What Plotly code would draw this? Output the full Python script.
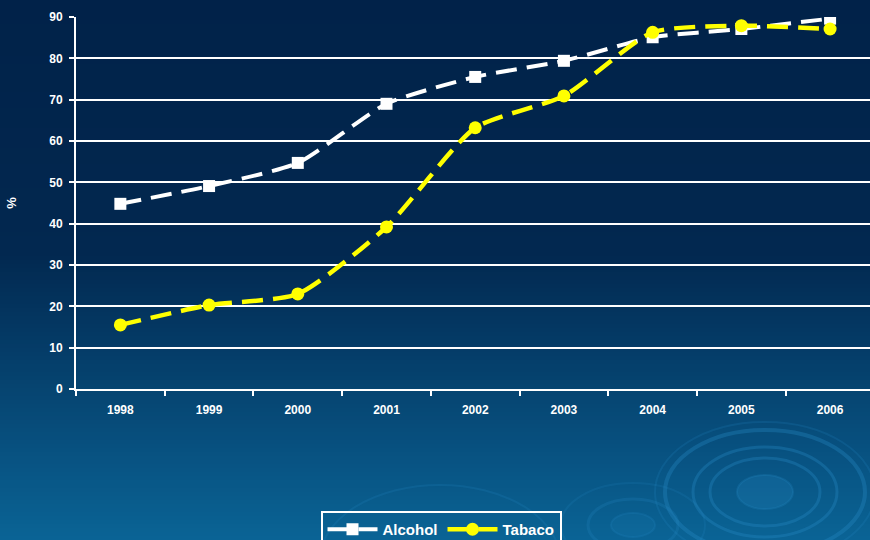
import plotly.graph_objects as go

# Survey years and shares (%) for each substance
years = ["1998", "1999", "2000", "2001", "2002", "2003", "2004", "2005", "2006"]
alcohol = [44.8, 49.1, 54.7, 69.0, 75.5, 79.4, 85.1, 87.1, 89.6]
tabaco = [15.5, 20.3, 23.0, 39.2, 63.2, 70.9, 86.3, 87.9, 87.1]
y_ticks = [0, 10, 20, 30, 40, 50, 60, 70, 80, 90]

W, H = 870, 540
L, T, B = 76, 17, 389          # plot-area edges in pixels
PW, PH = W - L, B - T


def px(x):
    return (x - L) / PW


def py(y):
    return (B - y) / PH


def mix(c1, c2, t):
    return "rgb(%d,%d,%d)" % tuple(round(a + (b - a) * t) for a, b in zip(c1, c2))


shapes = []

# vertical background gradient: deep navy on top, lighter blue at the bottom
top_c, mid_c, bot_c = (1, 34, 73), (2, 40, 80), (10, 100, 150)
step = 4
for y0 in range(-8, H + 20, step):
    if y0 < 250:
        col = mix(top_c, mid_c, max(0.0, y0 / 250))
    else:
        col = mix(mid_c, bot_c, min(1.0, (y0 - 250) / (H - 250)))
    shapes.append(dict(type="rect", xref="paper", yref="paper", layer="below",
                       x0=px(-5), x1=px(W + 5), y0=py(y0 + step + 1), y1=py(y0),
                       fillcolor=col, line=dict(width=0)))


def ring(cx, cy, rx, ry, color, width=3, fill=None):
    shapes.append(dict(type="circle", xref="paper", yref="paper", layer="below",
                       x0=px(cx - rx), x1=px(cx + rx), y0=py(cy + ry), y1=py(cy - ry),
                       line=dict(color=color, width=width),
                       fillcolor=fill if fill else "rgba(0,0,0,0)"))


# ripple ornaments in the lower right
ring_col = "rgba(40,140,200,0.32)"
ring(765, 492, 28, 17, "rgba(40,140,200,0.22)", 2, "rgba(40,140,200,0.22)")
ring(765, 492, 55, 34, ring_col, 3)
ring(765, 492, 72, 45, ring_col, 3)
ring(765, 492, 100, 62, ring_col, 4)
ring(765, 492, 110, 70, "rgba(40,140,200,0.18)", 2)
ring(633, 525, 22, 12, "rgba(40,140,200,0.18)", 2, "rgba(40,140,200,0.12)")
ring(633, 525, 45, 26, "rgba(40,140,200,0.2)", 3)
ring(633, 525, 72, 42, "rgba(40,140,200,0.15)", 2)
ring(440, 560, 120, 75, "rgba(40,140,200,0.18)", 2)

font = dict(family="Liberation Sans, Arial, sans-serif", color="white", weight="bold")

fig = go.Figure()
fig.add_trace(go.Scatter(
    x=years, y=alcohol, name="Alcohol", mode="lines+markers",
    line=dict(color="white", width=4, dash="21px,10px", shape="spline", smoothing=0.6),
    marker=dict(symbol="square", size=12, color="white"),
))
fig.add_trace(go.Scatter(
    x=years, y=tabaco, name="Tabaco", mode="lines+markers",
    line=dict(color="#ffff00", width=4.5, dash="21px,10px", shape="spline", smoothing=0.6),
    marker=dict(symbol="circle", size=13, color="#ffff00"),
))

fig.update_layout(
    width=W, height=H,
    margin=dict(l=L, r=0, t=T, b=H - B, autoexpand=False),
    paper_bgcolor="rgb(10,100,150)",
    plot_bgcolor="rgba(0,0,0,0)",
    shapes=shapes,
    showlegend=True,
    legend=dict(
        orientation="h", x=(441 - L) / PW, xanchor="center", y=py(511), yanchor="top",
        bgcolor="rgba(0,0,0,0)", bordercolor="white", borderwidth=2,
        font=dict(size=15, **font), itemwidth=50,
    ),
    font=dict(size=12, **font),
)
fig.update_xaxes(
    type="category", range=[-0.5, 8.45],
    showline=True, linecolor="white", linewidth=2,
    ticks="outside", tickcolor="white", ticklen=5, tickwidth=2,
    tickson="boundaries", showgrid=False, zeroline=False,
    tickfont=dict(size=12, **font), ticklabelstandoff=9,
)
fig.update_yaxes(
    range=[0, 90], tickvals=y_ticks, ticktext=[str(v) for v in y_ticks],
    showline=True, linecolor="white", linewidth=2,
    ticks="outside", tickcolor="white", ticklen=5, tickwidth=2,
    showgrid=True, gridcolor="white", gridwidth=2, zeroline=False,
    tickfont=dict(size=12, **font), ticklabelstandoff=4,
    title=dict(text="%", font=dict(size=13, **font), standoff=30),
)

fig.write_html("out.html")
